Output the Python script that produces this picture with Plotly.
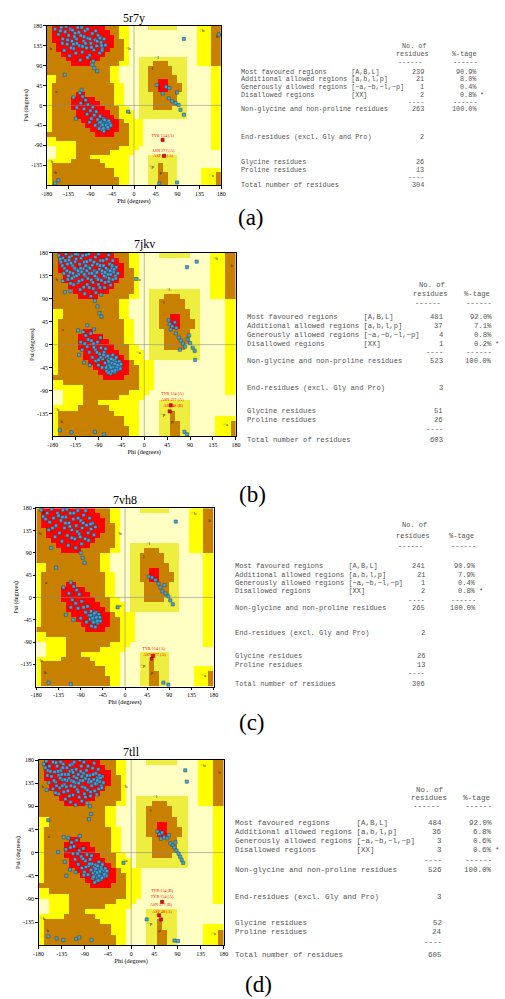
import plotly.graph_objects as go

W, H = 505, 999

# ---------------- data ----------------
pdb_ids = ["5r7y", "7jkv", "7vh8", "7tll"]
captions = ["(a)", "(b)", "(c)", "(d)"]

# PROCHECK region map, 10-degree cells, rows from psi 180 (top) to -180, cols phi -180..180
# W = disallowed, Y = generously allowed, G = generously allowed (L box), B = additional allowed, R = most favoured
region_rle = [
    "B1 R11 B3 Y2 W4 G6 W4 Y3 B2",
    "B1 R12 B2 Y2 W14 Y3 B2",
    "B1 R13 B1 Y2 W14 Y3 B2",
    "B1 R13 B2 Y1 W14 Y3 B2",
    "B2 R12 B2 Y1 W14 Y3 B2",
    "B2 R11 B3 Y1 W14 Y3 B2",
    "B3 R9 B4 Y1 W14 Y3 B2",
    "B4 R7 B5 Y1 W2 G10 W2 Y3 B2",
    "B5 R4 B6 Y2 W2 G3 B3 G4 W2 Y3 B2",
    "B13 Y2 W4 G2 B5 G3 W5 Y2",
    "B13 Y2 W4 G2 B5 G3 W5 Y2",
    "Y2 B11 Y2 W4 G2 B6 G2 W5 Y2",
    "Y2 B11 Y2 W4 G2 B2 R2 B2 G2 W5 Y2",
    "Y1 B13 Y2 W3 G2 B2 R2 B3 G1 W5 Y2",
    "Y1 B13 Y2 W3 G2 B2 R2 B3 G1 W5 Y2",
    "Y1 B5 R2 B6 Y2 W3 G3 B5 G2 W5 Y2",
    "Y1 B4 R5 B4 Y2 W3 G3 B5 G2 W5 Y2",
    "Y1 B4 R6 B3 Y2 W3 G3 B5 G2 W5 Y2",
    "Y1 B4 R7 B3 Y2 W2 G3 B4 G3 W5 Y2",
    "Y1 B5 R7 B2 Y3 W1 G10 W5 Y2",
    "Y1 B5 R8 B1 Y3 W1 G10 W5 Y2",
    "Y1 B6 R8 B1 Y4 W14 Y2",
    "Y1 B7 R7 B2 Y3 W14 Y2",
    "Y1 B8 R6 B2 Y3 W14 Y2",
    "B10 R4 B3 Y3 W14 Y2",
    "Y2 B15 Y3 W14 Y2",
    "Y6 B11 Y3 W14 Y2",
    "W2 Y4 B9 Y4 W15 Y2",
    "W2 Y4 B7 Y5 W18",
    "W2 Y4 B3 Y8 W4 G6 W9",
    "Y5 B6 Y6 W4 G6 W9",
    "Y1 B11 Y5 W4 G2 B1 G3 W9",
    "Y1 B13 Y3 W4 G2 B1 G3 W5 Y4",
    "Y1 B13 Y3 W4 G2 B2 G2 W5 Y3 B1",
    "Y1 B14 Y2 W4 G2 B2 G2 W5 Y3 B1",
    "Y1 B14 Y2 W4 G2 B2 G2 W5 Y3 B1",
]
region_codes = {"W": 0, "Y": 1, "G": 2, "B": 3, "R": 4}
region_colors = ["#FFFFC4", "#FFFF00", "#EEEE40", "#C88000", "#FF0000"]

region_labels = ["B", "b", "A", "a", "L", "l", "~l", "~b", "~a", "~b", "b", "~b", "b", "p", "~p", "~a"]
region_lab_phi = [-165, -172, -106, -160, 52, 38, 47, -12, -12, 140, 172, -172, -162, 55, 36, 160]
region_lab_psi = [170, 128, 8, 30, 40, 82, 108, 128, -16, 168, 155, -128, -152, -152, -138, -158]

pts_5r7y = [
    (-163,172),(-156,160),(-150,176),(-147,150),(-142,166),(-138,138),(-135,158),(-131,172),(-128,145),(-125,128),
    (-122,163),(-119,150),(-116,176),(-113,135),(-110,158),(-107,120),(-104,145),(-101,168),(-98,130),(-95,152),
    (-92,113),(-89,140),(-86,162),(-83,125),(-80,148),(-77,134),(-74,158),(-71,118),(-68,142),(-65,128),
    (-62,150),(-59,136),(-144,124),(-133,112),(-127,170),(-118,140),(-111,102),(-103,155),(-96,108),(-88,131),
    (-79,168),(-70,152),(-120,118),(-140,178),(-108,176),(-84,100),(-96,172),(-125,138),(-148,140),(-66,124),
    (-152,168),(-137,148),(-123,155),(-114,165),(-100,140),(-91,150),(-76,145),(-67,135),(-130,130),(-106,133),
    (-86,92),(-82,84),(-76,77),(-143,69),
    (-112,28),(-106,20),(-100,12),(-110,5),(-95,2),(-103,-8),(-118,-5),(-90,-12),(-97,-20),(-85,-4),
    (-82,-22),(-88,-30),(-78,-14),(-75,-32),(-72,-40),(-70,-25),(-68,-46),(-66,-36),(-64,-42),(-63,-30),
    (-62,-48),(-61,-38),(-60,-44),(-59,-34),(-58,-50),(-57,-40),(-56,-46),(-55,-37),(-54,-43),(-53,-52),
    (-52,-35),(-51,-47),(-50,-41),(-66,-55),(-72,-52),(-80,-45),(-92,-38),(-120,-30),(-125,18),(-108,35),
    (-62,-58),(-48,-45),(-65,-44),(-61,-33),(-57,-45),(-69,-38),(-54,-49),(-63,-52),
    (47,46),(66,42),(73,39),(59,27),(72,16),(79,9),(86,5),(92,1),(96,-10),(103,-21),(89,29),
    (-12,-14),(103,150),(175,160),(-156,-169),(-163,-176),(52,-176),(89,-174),
]
bad_5r7y = [(59,-78),(62,-114)]
badlab_5r7y = ["TYR 154 (A)", "ASN 277 (A)", "ASP 48 (A)"]
badlab_phi_5r7y = [59, 60, 60]
badlab_psi_5r7y = [-68, -102, -115]

pts_7jkv = [
    (-168,175),(-164,162),(-160,170),(-157,150),(-154,178),(-151,158),(-148,166),(-146,142),(-143,174),(-141,155),
    (-138,133),(-136,163),(-133,147),(-131,177),(-129,138),(-127,158),(-124,170),(-122,127),(-120,149),(-118,162),
    (-116,135),(-114,176),(-112,118),(-110,152),(-108,140),(-106,166),(-104,127),(-102,156),(-100,110),(-98,145),
    (-96,172),(-94,132),(-92,158),(-90,118),(-88,148),(-86,165),(-84,126),(-82,140),(-80,155),(-78,112),
    (-76,133),(-74,168),(-72,147),(-70,124),(-68,158),(-66,138),(-64,150),(-62,128),(-60,143),(-57,135),
    (-55,152),(-52,140),(-150,128),(-139,118),(-126,108),(-117,100),(-105,95),(-95,102),(-85,98),(-135,178),
    (-109,178),(-90,178),(-70,176),(-158,140),(-145,120),(-130,122),(-119,113),(-101,122),(-87,112),(-77,122),
    (-66,117),(-97,86),(-92,75),(-88,62),(-84,55),(-145,105),(-160,125),(-62,165),(-123,143),(-113,163),
    (-165,168),(-161,155),(-155,165),(-152,145),(-147,172),(-144,160),(-140,140),(-137,150),(-134,168),(-130,145),
    (-128,125),(-125,150),(-121,175),(-118,138),(-115,155),(-111,130),(-107,150),(-103,140),(-99,162),(-95,142),
    (-91,128),(-87,155),(-83,145),(-79,135),(-75,150),(-71,138),(-67,145),(-63,155),(-59,148),(-56,130),
    (-149,135),(-113,145),(-97,135),(-81,165),(-133,135),(-142,130),(-108,112),(-93,142),(-77,142),(-69,130),
    (-120,25),(-115,18),(-110,10),(-125,5),(-105,22),(-100,2),(-112,-4),(-96,-10),(-108,-15),(-92,5),
    (-88,-18),(-102,-25),(-85,-6),(-82,-28),(-95,-32),(-79,-15),(-77,-36),(-75,-24),(-73,-42),(-71,-30),
    (-70,-47),(-69,-38),(-68,-26),(-67,-44),(-66,-33),(-65,-50),(-64,-40),(-63,-46),(-62,-35),(-61,-42),
    (-60,-48),(-59,-37),(-58,-44),(-57,-30),(-56,-40),(-55,-46),(-54,-36),(-53,-42),(-52,-49),(-51,-38),
    (-50,-44),(-49,-33),(-48,-41),(-47,-47),(-58,-54),(-66,-57),(-74,-52),(-83,-45),(-90,-40),(-128,-20),
    (-118,-35),(-130,28),(-99,30),(-107,-40),(-62,-20),(-46,-38),(-55,-25),(-76,-8),(-86,14),(-112,38),
    (-68,-40),(-64,-36),(-60,-40),(-56,-34),(-62,-44),(-58,-38),(-54,-44),(-66,-45),(-70,-33),(-52,-40),
    (-57,-50),(-61,-30),(-65,-28),(-72,-22),(-80,-20),(-86,-25),(-93,-15),(-99,-5),(-104,8),(-117,2),
    (-122,-10),(-90,-30),(-75,-45),(-70,-55),(-63,-52),
    (48,48),(50,40),(55,36),(60,44),(63,33),(52,30),(62,22),(68,14),(72,8),(76,2),
    (80,-4),(85,10),(90,3),(95,-6),(99,-12),(88,18),(70,-10),(100,-30),
    (84,152),(103,163),(-16,129),(-166,-168),(-143,-172),(-97,-171),(-79,-176),(79,-171),(84,-176),(-156,103),
]
bad_7jkv = [(52,-119),(50,-131)]
badlab_7jkv = ["TYR 154 (A)", "ASN 277 (A)", "ASP 48 (B)"]
badlab_phi_7jkv = [55, 55, 57]
badlab_psi_7jkv = [-96, -108, -120]

pts_7vh8 = [
    (-170,176),(-166,163),(-158,170),(-153,152),(-149,178),(-145,160),(-140,145),(-137,170),(-133,130),(-130,155),
    (-126,176),(-123,140),(-120,162),(-117,125),(-114,150),(-111,170),(-108,136),(-105,158),(-102,118),(-99,145),
    (-96,175),(-93,128),(-90,155),(-87,140),(-84,166),(-81,118),(-78,146),(-75,130),(-72,160),(-69,138),
    (-66,150),(-63,126),(-60,142),(-142,122),(-128,113),(-115,105),(-100,100),(-88,108),(-155,136),(-118,178),
    (-80,175),(-108,120),(-135,165),(-95,160),(-74,115),(-90,90),(-86,80),(-82,70),(-140,60),(-150,100),
    (-161,158),(-147,140),(-127,162),(-112,143),(-104,170),(-97,133),(-85,150),(-70,148),(-121,150),(-91,122),
    (-110,30),(-104,22),(-98,15),(-114,8),(-93,6),(-107,-5),(-100,-12),(-88,-8),(-95,-22),(-84,-20),
    (-110,-20),(-80,-30),(-76,-18),(-73,-36),(-71,-44),(-69,-28),(-67,-40),(-65,-48),(-64,-34),(-63,-44),
    (-62,-38),(-61,-50),(-60,-42),(-59,-30),(-58,-46),(-57,-38),(-56,-44),(-55,-52),(-54,-40),(-53,-34),
    (-52,-46),(-51,-40),(-50,-48),(-68,-58),(-78,-50),(-90,-42),(-120,-35),(-125,20),(-105,-45),(-60,-60),
    (-66,-42),(-62,-32),(-58,-40),(-64,-50),(-70,-36),(-56,-48),
    (48,42),(55,40),(62,35),(68,28),(72,20),(76,12),(82,8),(88,2),(92,-6),(97,-14),(80,25),
    (103,153),(-15,-20),(-155,-172),(-110,-175),(78,-172),(88,-176),
]
bad_7vh8 = [(54,-124),(57,-118)]
badlab_7vh8 = ["TYR 154 (A)", "ASN 277 (A)"]
badlab_phi_7vh8 = [58, 60]
badlab_psi_7vh8 = [-104, -116]

pts_7tll = [
    (-170,172),(-165,178),(-162,160),(-159,168),(-155,148),(-152,176),(-149,157),(-147,137),(-144,168),(-141,150),
    (-139,126),(-137,160),(-134,142),(-132,172),(-130,132),(-128,152),(-125,165),(-123,120),(-121,144),(-119,158),
    (-117,130),(-115,172),(-113,112),(-111,148),(-109,136),(-107,162),(-105,122),(-103,152),(-101,108),(-99,140),
    (-97,168),(-95,128),(-93,154),(-91,114),(-89,144),(-87,160),(-85,122),(-83,137),(-81,150),(-79,110),
    (-77,130),(-75,164),(-73,142),(-71,120),(-69,154),(-67,134),(-65,146),(-63,124),(-61,138),(-58,130),
    (-56,148),(-54,136),(-152,124),(-141,114),(-128,104),(-118,98),(-108,93),(-96,100),(-86,96),(-137,176),
    (-111,176),(-92,176),(-72,174),(-160,136),(-147,116),(-131,118),(-120,110),(-103,118),(-89,108),(-79,118),
    (-67,113),(-80,90),(-78,75),(-82,65),(-161,63),(-164,122),(-64,162),(-125,140),(-115,160),(-100,180),
    (-167,165),(-163,150),(-157,158),(-150,140),(-146,175),(-142,158),(-138,145),(-135,152),(-133,165),(-129,142),
    (-126,128),(-122,152),(-119,170),(-116,140),(-113,156),(-110,128),(-106,145),(-102,135),(-98,158),(-94,140),
    (-90,126),(-86,150),(-82,142),(-78,138),(-74,152),(-70,134),(-66,140),(-62,150),(-60,145),(-57,126),
    (-145,130),(-112,138),(-96,148),(-84,168),(-134,130),
    (-122,28),(-116,20),(-111,12),(-127,6),(-106,24),(-101,4),(-113,-2),(-97,-8),(-109,-13),(-93,8),
    (-89,-16),(-103,-23),(-86,-4),(-83,-26),(-96,-30),(-80,-13),(-78,-34),(-76,-22),(-74,-40),(-72,-28),
    (-71,-45),(-70,-36),(-69,-24),(-68,-42),(-67,-31),(-66,-48),(-65,-38),(-64,-44),(-63,-33),(-62,-40),
    (-61,-46),(-60,-35),(-59,-42),(-58,-28),(-57,-38),(-56,-44),(-55,-34),(-54,-40),(-53,-47),(-52,-36),
    (-51,-42),(-50,-31),(-49,-39),(-48,-45),(-59,-52),(-67,-55),(-75,-50),(-84,-43),(-91,-38),(-129,-18),
    (-119,-33),(-131,30),(-100,32),(-108,-38),(-63,-18),(-47,-36),(-56,-23),(-77,-6),(-142,1),(-126,-45),
    (-66,-39),(-62,-45),(-58,-33),(-54,-46),(-69,-31),(-61,-37),(-57,-49),(-65,-26),(-73,-47),(-52,-42),
    (-81,-22),(-88,-28),(-94,-12),(-104,-2),(-118,10),(-92,-44),(-71,-58),(-64,-54),
    (51,41),(55,36),(60,39),(64,30),(70,28),(73,34),(58,27),(80,15),(84,10),(88,4),
    (92,-2),(95,-8),(98,-14),(101,-20),(86,20),(76,18),
    (105,160),(108,138),(-161,-163),(-145,-167),(-132,-170),(-107,-168),(-101,-165),(-77,-170),(84,-171),(91,-172),
    (-15,-20),(30,-130),
]
bad_7tll = [(60,-96),(54,-122),(58,-130)]
badlab_7tll = ["TYR 154 (B)", "TYR 154 (A)", "ASN 277 (B)", "ASP 48 (A)"]
badlab_phi_7tll = [60, 60, 58, 60]
badlab_psi_7tll = [-74, -87, -102, -115]

# statistics tables
row_names = ["Most favoured regions", "Additional allowed regions",
             "Generously allowed regions", "Disallowed regions"]
row_brackets = ["[A,B,L]", "[a,b,l,p]", "[~a,~b,~l,~p]", "[XX]"]
counts = {"5r7y": [239, 21, 1, 2], "7jkv": [481, 37, 4, 1], "7vh8": [241, 21, 1, 2], "7tll": [484, 36, 3, 3]}
percents = {"5r7y": ["90.9%", "8.0%", "0.4%", "0.8%"], "7jkv": ["92.0%", "7.1%", "0.8%", "0.2%"],
            "7vh8": ["90.9%", "7.9%", "0.4%", "0.8%"], "7tll": ["92.0%", "6.8%", "0.6%", "0.6%"]}
non_gly_pro = {"5r7y": 263, "7jkv": 523, "7vh8": 265, "7tll": 526}
end_res = {"5r7y": 2, "7jkv": 3, "7vh8": 2, "7tll": 3}
gly_res = {"5r7y": 26, "7jkv": 51, "7vh8": 26, "7tll": 52}
pro_res = {"5r7y": 13, "7jkv": 26, "7vh8": 13, "7tll": 24}
total_res = {"5r7y": 304, "7jkv": 603, "7vh8": 306, "7tll": 605}

# ---------------- layout geometry (pixels) ----------------
plot_rect = {"5r7y": (41.7, 22.7, 220.0, 182.7), "7jkv": (47.7, 250.7, 235.0, 434.7),
             "7vh8": (31.0, 506.7, 212.3, 685.7), "7tll": (33.3, 759.3, 222.7, 945.0)}
title_y = {"5r7y": 15, "7jkv": 241.5, "7vh8": 498, "7tll": 751.5}
caption_pos = {"5r7y": (250, 215), "7jkv": (252, 493), "7vh8": (251, 722), "7tll": (258, 984)}
# table: x of label start, right edge of counts, right edge of percents, font size
table_x = {"5r7y": (239, 428, 483, 6.8), "7jkv": (245, 448, 498, 7.2),
           "7vh8": (233.3, 429.3, 481.7, 7.0), "7tll": (233.3, 447, 498, 7.5)}
# y of rows: NoOf, residues, dashes, MF, Add, Gen, Dis, dashes, NonGly, End, Gly, Pro, dashes, Total
table_y = {
    "5r7y": [42.7, 50.7, 59.3, 69, 76.6, 84.5, 92.2, 99.5, 106.7, 134, 159.4, 167.3, 175, 183],
    "7jkv": [283, 292, 301, 314.6, 323.7, 332.5, 341.6, 350.3, 359, 386, 409, 417.8, 427, 438],
    "7vh8": [524, 535, 545, 565, 573.3, 581.7, 590, 598.3, 607.3, 631.7, 655, 663.6, 672.3, 683.3],
    "7tll": [789, 797.5, 805, 822, 831.3, 840.7, 850, 859.3, 869.4, 896.7, 922.8, 932.1, 942.2, 954.5],
}


def decode(rle):
    out = []
    for tok in rle.split():
        out += [region_codes[tok[0]]] * int(tok[1:])
    out = (out + [0] * 36)[:36]
    return out


z_rows = [decode(r) for r in region_rle][::-1]  # bottom (psi -180) first

n = len(region_colors)
cscale = []
for i, c in enumerate(region_colors):
    cscale.append([i / n, c])
    cscale.append([(i + 1) / n, c])

mono = "Liberation Mono"
serif = "Liberation Serif"
tcol = "#555555"

fig = go.Figure()
annotations = []
layout_axes = {}

for k, pid in enumerate(pdb_ids):
    xa = "x" if k == 0 else f"x{k+1}"
    ya = "y" if k == 0 else f"y{k+1}"
    x0, y0, x1, y1 = plot_rect[pid]

    fig.add_trace(go.Heatmap(z=z_rows, x0=-175, dx=10, y0=-175, dy=10, colorscale=cscale,
                             zmin=-0.5, zmax=n - 0.5, showscale=False, hoverinfo="skip",
                             xaxis=xa, yaxis=ya))
    fig.add_trace(go.Scatter(x=[0, 0], y=[-180, 180], mode="lines", line=dict(color="#8c8c8c", width=0.6),
                             hoverinfo="skip", showlegend=False, xaxis=xa, yaxis=ya))
    fig.add_trace(go.Scatter(x=[-180, 180], y=[0, 0], mode="lines", line=dict(color="#8c8c8c", width=0.6),
                             hoverinfo="skip", showlegend=False, xaxis=xa, yaxis=ya))
    fig.add_trace(go.Scatter(x=region_lab_phi, y=region_lab_psi, mode="text", text=region_labels,
                             textfont=dict(family=serif, size=5, color="#222222"), hoverinfo="skip",
                             showlegend=False, xaxis=xa, yaxis=ya))
    pts = globals()["pts_" + pid]
    fig.add_trace(go.Scatter(x=[p[0] for p in pts], y=[p[1] for p in pts], mode="markers",
                             marker=dict(symbol="square", size=3.2, color="#45A6DC",
                                         line=dict(color="#24465f", width=0.5)),
                             hoverinfo="skip", showlegend=False, xaxis=xa, yaxis=ya))
    bad = globals()["bad_" + pid]
    fig.add_trace(go.Scatter(x=[p[0] for p in bad], y=[p[1] for p in bad], mode="markers",
                             marker=dict(symbol="square", size=3.2, color="#FF0000",
                                         line=dict(color="#600000", width=0.5)),
                             hoverinfo="skip", showlegend=False, xaxis=xa, yaxis=ya))
    fig.add_trace(go.Scatter(x=globals()["badlab_phi_" + pid], y=globals()["badlab_psi_" + pid],
                             mode="text", text=globals()["badlab_" + pid],
                             textfont=dict(family=serif, size=4.2, color="#FF0000"), hoverinfo="skip",
                             showlegend=False, xaxis=xa, yaxis=ya))

    common = dict(range=[-180, 180], ticks="outside", ticklen=2.5, tickwidth=0.7, tickcolor="black",
                  showline=True, mirror=True, linecolor="black", linewidth=0.8, showgrid=False,
                  zeroline=False, fixedrange=True,
                  tickfont=dict(family=serif, size=6, color="black"))
    xticks = [-180, -135, -90, -45, 0, 45, 90, 135, 180]
    yticks = [-135, -90, -45, 0, 45, 90, 135, 180]
    layout_axes["xaxis" if k == 0 else f"xaxis{k+1}"] = dict(
        common, domain=[x0 / W, x1 / W], anchor=ya, tickvals=xticks, ticktext=[str(v) for v in xticks],
        title=dict(text="Phi (degrees)", font=dict(family=serif, size=6.3, color="black"), standoff=1))
    layout_axes["yaxis" if k == 0 else f"yaxis{k+1}"] = dict(
        common, domain=[1 - y1 / H, 1 - y0 / H], anchor=xa, tickvals=yticks, ticktext=[str(v) for v in yticks],
        title=dict(text="Psi (degrees)", font=dict(family=serif, size=6.3, color="black"), standoff=1))

    annotations.append(dict(x=(x0 + x1) / 2 / W, y=1 - title_y[pid] / H, xref="paper", yref="paper",
                            text=pid, showarrow=False, xanchor="center", yanchor="middle",
                            font=dict(family=serif, size=12, color="black")))
    cx, cy = caption_pos[pid]
    annotations.append(dict(x=cx / W, y=1 - cy / H, xref="paper", yref="paper", text=captions[k],
                            showarrow=False, xanchor="center", yanchor="middle",
                            font=dict(family=serif, size=23, color="black")))

    xl, xn, xp, fs = table_x[pid]
    ty = table_y[pid]

    def txt(s, x, y, anchor):
        annotations.append(dict(x=x / W, y=1 - y / H, xref="paper", yref="paper",
                                text=s.replace(" ", "\u00a0"), showarrow=False, xanchor=anchor,
                                yanchor="middle", borderpad=0,
                                font=dict(family=mono, size=fs, color=tcol)))

    txt("No. of", xn + 2, ty[0], "right")
    txt("residues", xn + 5, ty[1], "right")
    txt("%-tage", xp - 2, ty[1], "right")
    txt("------", xn - 2, ty[2], "right")
    txt("------", xp, ty[2], "right")
    for i in range(4):
        txt(row_names[i].ljust(27) + row_brackets[i], xl, ty[3 + i], "left")
        txt(str(counts[pid][i]), xn, ty[3 + i], "right")
        txt(percents[pid][i], xp, ty[3 + i], "right")
    txt("*", xp + 0.5, ty[6], "left")
    txt("----", xn, ty[7], "right")
    txt("------", xp, ty[7], "right")
    txt("Non-glycine and non-proline residues", xl, ty[8], "left")
    txt(str(non_gly_pro[pid]), xn, ty[8], "right")
    txt("100.0%", xp, ty[8], "right")
    txt("End-residues (excl. Gly and Pro)", xl, ty[9], "left")
    txt(str(end_res[pid]), xn, ty[9], "right")
    txt("Glycine residues", xl, ty[10], "left")
    txt(str(gly_res[pid]), xn, ty[10], "right")
    txt("Proline residues", xl, ty[11], "left")
    txt(str(pro_res[pid]), xn, ty[11], "right")
    txt("----", xn, ty[12], "right")
    txt("Total number of residues", xl, ty[13], "left")
    txt(str(total_res[pid]), xn, ty[13], "right")

fig.update_layout(width=W, height=H, margin=dict(l=0, r=0, t=0, b=0), paper_bgcolor="white",
                  plot_bgcolor="white", showlegend=False, annotations=annotations, **layout_axes)

fig.write_html("out.html", config={"displayModeBar": False})
